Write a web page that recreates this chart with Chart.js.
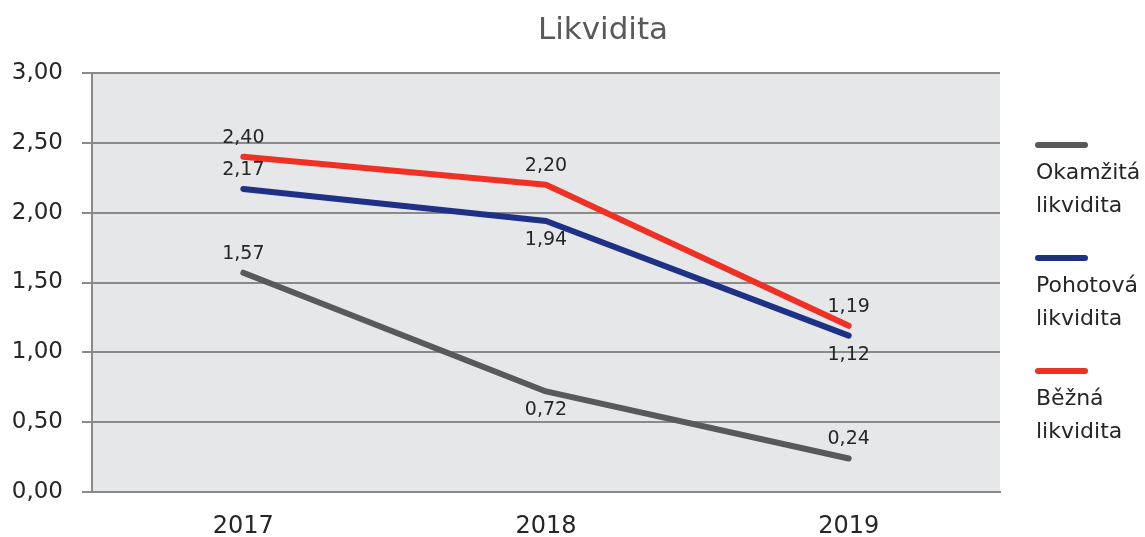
<!DOCTYPE html>
<html lang="cs">
<head>
<meta charset="utf-8">
<title>Likvidita</title>
<script src="https://cdn.jsdelivr.net/npm/chart.js@4/dist/chart.umd.min.js"></script>
<style>
  body { margin: 0; background: #fff; }
  canvas { display: block; }
</style>
</head>
<body>
<canvas id="graf" width="1145" height="537"></canvas>
<script>
const roky = ["2017", "2018", "2019"];
const okamzita = [1.57, 0.72, 0.24];
const pohotova = [2.17, 1.94, 1.12];
const bezna = [2.40, 2.20, 1.19];
const nazvy = ["Okamžitá likvidita", "Pohotová likvidita", "Běžná likvidita"];
const barvy = ["#58595b", "#1f3087", "#ee3124"];

// kde je popisek hodnoty: nad (-1) nebo pod (1) bodem
const umisteni = [
  [-1, 1, -1],
  [-1, 1, 1],
  [-1, -1, -1]
];

const carka = v => v.toFixed(2).replace(".", ",");
const pismo = "'DejaVu Sans', Verdana, sans-serif";

const pozadi = {
  id: "pozadi",
  beforeDraw(chart) {
    const { ctx, chartArea: a } = chart;
    ctx.save();
    ctx.fillStyle = "#e6e7e8";
    ctx.fillRect(a.left, a.top, a.right - a.left, a.bottom - a.top);
    ctx.restore();
  }
};

const popisky = {
  id: "popisky",
  afterDatasetsDraw(chart) {
    const ctx = chart.ctx;
    ctx.save();
    ctx.font = "19px " + pismo;
    ctx.fillStyle = "#262626";
    ctx.textAlign = "center";
    ctx.textBaseline = "middle";
    chart.data.datasets.forEach((ds, i) => {
      chart.getDatasetMeta(i).data.forEach((bod, j) => {
        ctx.fillText(carka(ds.data[j]), bod.x, bod.y + umisteni[i][j] * 19);
      });
    });
    ctx.restore();
  }
};

const nadpisALegenda = {
  id: "nadpisALegenda",
  afterDraw(chart) {
    const ctx = chart.ctx;
    ctx.save();
    ctx.font = "31px " + pismo;
    ctx.fillStyle = "#595959";
    ctx.textAlign = "center";
    ctx.textBaseline = "middle";
    ctx.fillText("Likvidita", 603, 31);

    ctx.font = "22px " + pismo;
    ctx.fillStyle = "#262626";
    ctx.textAlign = "left";
    nazvy.forEach((n, i) => {
      const y = 145 + i * 113;
      ctx.strokeStyle = barvy[i];
      ctx.lineWidth = 6;
      ctx.lineCap = "round";
      ctx.beginPath();
      ctx.moveTo(1038, y);
      ctx.lineTo(1085, y);
      ctx.stroke();
      n.split(" ").forEach((r, k) => {
        ctx.fillText(r, 1036, y + 28 + k * 33);
      });
    });
    ctx.restore();
  }
};

const serie = [okamzita, pohotova, bezna];

new Chart(document.getElementById("graf"), {
  type: "line",
  data: {
    labels: roky,
    datasets: serie.map((d, i) => ({
      label: nazvy[i],
      data: d,
      borderColor: barvy[i],
      backgroundColor: barvy[i],
      borderWidth: 6,
      borderCapStyle: "round",
      borderJoinStyle: "round",
      pointRadius: 0,
      tension: 0,
      order: 3 - i
    }))
  },
  options: {
    responsive: false,
    animation: false,
    layout: { padding: { top: 73, right: 145, bottom: 0, left: 0 } },
    plugins: {
      legend: { display: false },
      title: { display: false },
      tooltip: { enabled: false }
    },
    scales: {
      x: {
        offset: true,
        grid: { display: false },
        border: { display: true, color: "#8a8a8a", width: 2 },
        ticks: { color: "#262626", font: { family: pismo, size: 24 }, padding: 12 },
        afterFit(s) { s.height = 45; }
      },
      y: {
        min: 0,
        max: 3,
        grid: { color: "#8a8a8a", lineWidth: 2, tickLength: 10, tickColor: "#8a8a8a" },
        border: { display: true, color: "#8a8a8a", width: 2 },
        ticks: {
          stepSize: 0.5,
          color: "#262626",
          font: { family: pismo, size: 23 },
          padding: 19,
          callback: v => carka(v)
        },
        afterFit(s) { s.width = 92; }
      }
    }
  },
  plugins: [pozadi, popisky, nadpisALegenda]
});
</script>
</body>
</html>
